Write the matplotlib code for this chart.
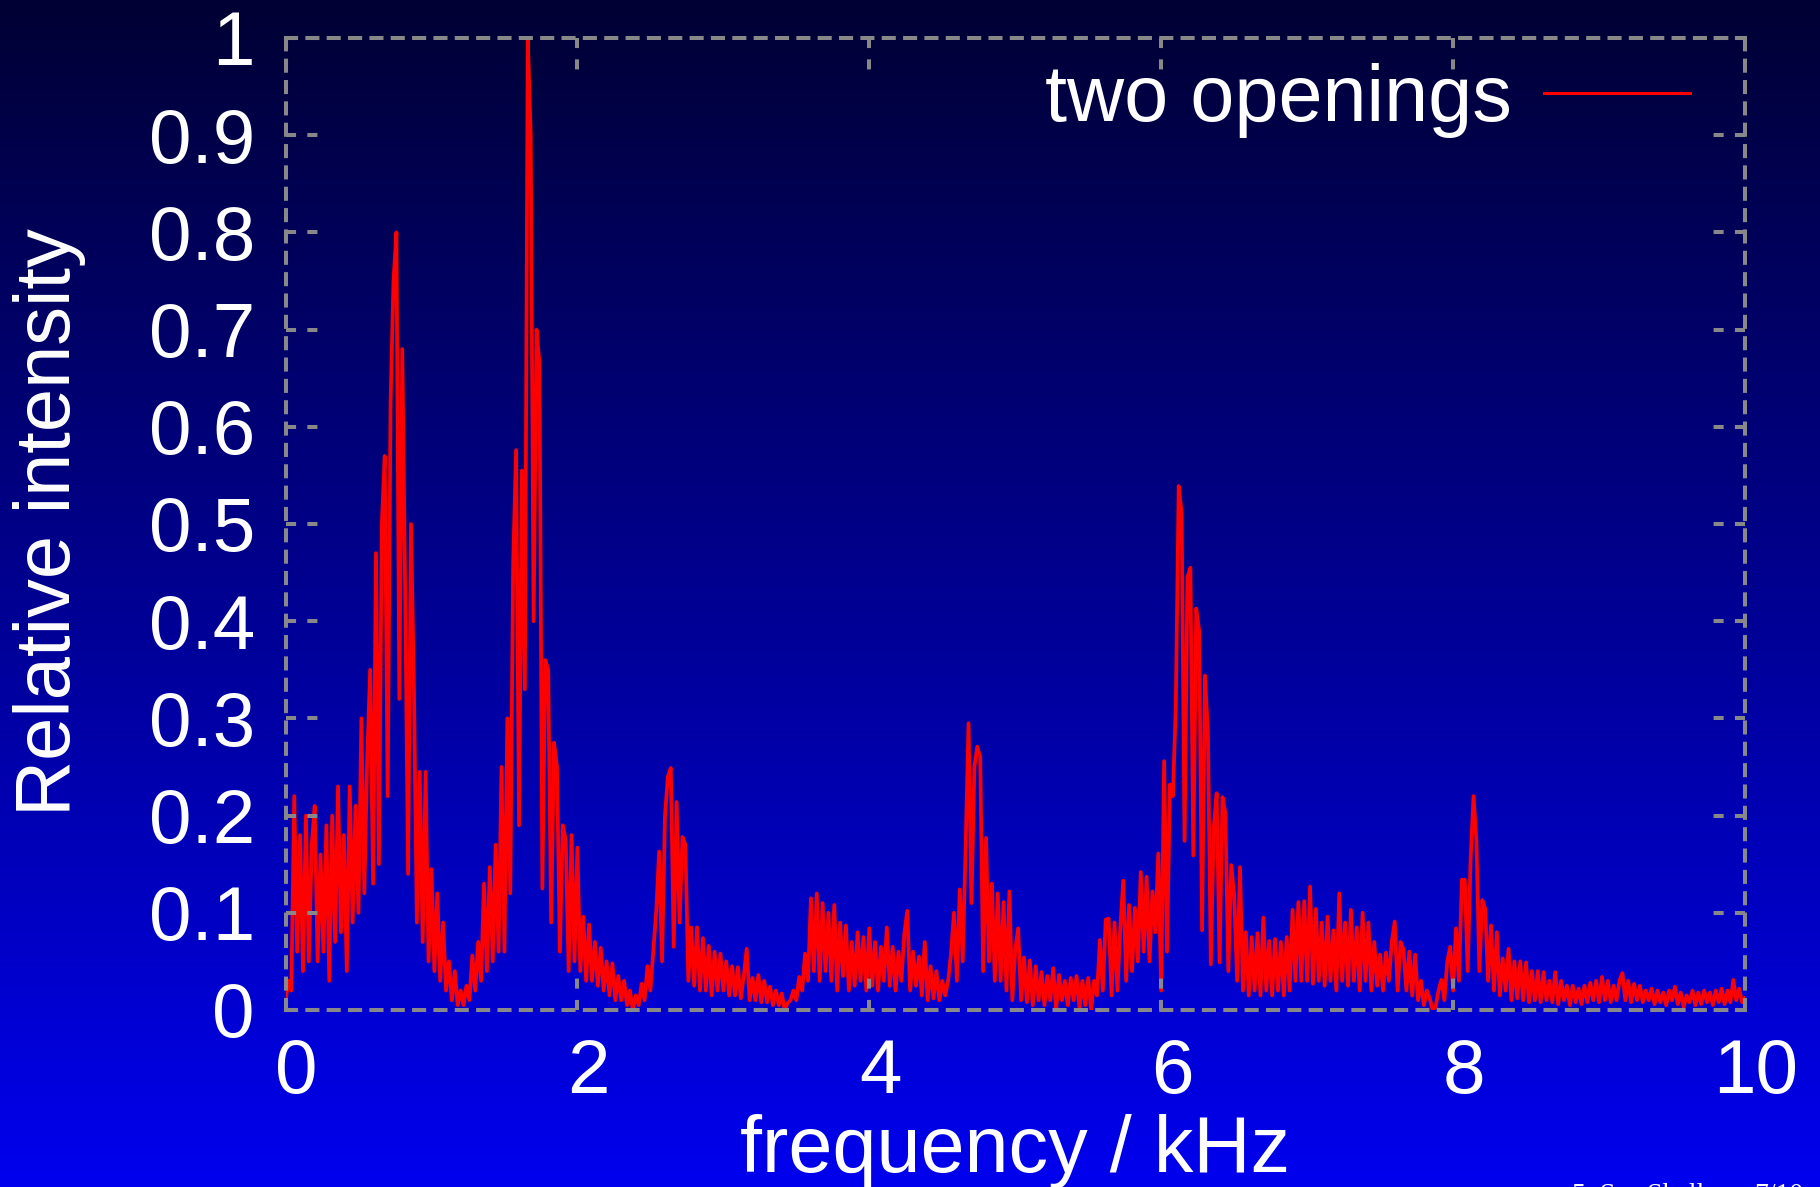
import numpy as np
import matplotlib
matplotlib.use("Agg")
import matplotlib.pyplot as plt
import matplotlib.transforms as mtransforms

plt.rcParams["font.family"] = ["Liberation Sans", "DejaVu Sans"]

# spectrum, one list per kHz, 0.02 kHz steps
khz_0 = [0.01, 0.03, 0.02, 0.22, 0.06, 0.18, 0.04, 0.20, 0.05, 0.17,
         0.21, 0.05, 0.16, 0.06, 0.19, 0.03, 0.20, 0.07, 0.23, 0.08,
         0.18, 0.04, 0.23, 0.09, 0.21, 0.10, 0.30, 0.12, 0.26, 0.35,
         0.13, 0.47, 0.15, 0.50, 0.57, 0.22, 0.625, 0.75, 0.80, 0.32,
         0.68, 0.43, 0.14, 0.50, 0.33, 0.09, 0.245, 0.07, 0.245, 0.05]
khz_1 = [0.145, 0.04, 0.12, 0.03, 0.09, 0.02, 0.05, 0.01, 0.04, 0.005,
         0.02, 0.005, 0.025, 0.01, 0.056, 0.02, 0.07, 0.03, 0.13, 0.04,
         0.147, 0.05, 0.17, 0.06, 0.25, 0.06, 0.30, 0.12, 0.46, 0.576,
         0.19, 0.555, 0.33, 1.00, 0.90, 0.40, 0.70, 0.665, 0.125, 0.36,
         0.35, 0.09, 0.275, 0.25, 0.06, 0.19, 0.175, 0.04, 0.18, 0.05]
khz_2 = [0.167, 0.04, 0.096, 0.03, 0.088, 0.03, 0.07, 0.025, 0.064, 0.02,
         0.05, 0.015, 0.048, 0.01, 0.035, 0.01, 0.03, 0.005, 0.02, 0.0,
         0.015, 0.005, 0.027, 0.01, 0.045, 0.02, 0.06, 0.101, 0.163, 0.05,
         0.20, 0.24, 0.249, 0.065, 0.214, 0.09, 0.178, 0.17, 0.03, 0.085,
         0.025, 0.085, 0.02, 0.074, 0.02, 0.066, 0.015, 0.06, 0.02, 0.058]
khz_3 = [0.02, 0.05, 0.015, 0.045, 0.015, 0.044, 0.012, 0.035, 0.063, 0.01,
         0.033, 0.01, 0.036, 0.008, 0.03, 0.008, 0.024, 0.005, 0.02, 0.005,
         0.017, 0.0, 0.007, 0.01, 0.02, 0.01, 0.034, 0.02, 0.058, 0.03,
         0.115, 0.04, 0.12, 0.03, 0.11, 0.04, 0.10, 0.03, 0.108, 0.02,
         0.09, 0.035, 0.087, 0.02, 0.07, 0.025, 0.08, 0.03, 0.075, 0.02]
khz_4 = [0.084, 0.025, 0.07, 0.02, 0.065, 0.03, 0.085, 0.025, 0.065, 0.02,
         0.06, 0.03, 0.078, 0.102, 0.02, 0.06, 0.025, 0.055, 0.015, 0.07,
         0.01, 0.045, 0.012, 0.04, 0.01, 0.03, 0.015, 0.03, 0.058, 0.10,
         0.03, 0.124, 0.05, 0.168, 0.295, 0.11, 0.25, 0.271, 0.26, 0.04,
         0.177, 0.05, 0.13, 0.03, 0.12, 0.03, 0.111, 0.02, 0.122, 0.01]
khz_5 = [0.062, 0.084, 0.01, 0.054, 0.008, 0.051, 0.005, 0.045, 0.01, 0.039,
         0.005, 0.035, 0.01, 0.043, 0.0, 0.036, 0.01, 0.03, 0.005, 0.033,
         0.01, 0.035, 0.002, 0.03, 0.005, 0.033, 0.0, 0.03, 0.015, 0.072,
         0.02, 0.093, 0.094, 0.015, 0.09, 0.02, 0.085, 0.133, 0.03, 0.108,
         0.04, 0.105, 0.05, 0.142, 0.06, 0.137, 0.05, 0.122, 0.08, 0.161]
khz_6 = [0.02, 0.256, 0.06, 0.232, 0.22, 0.312, 0.539, 0.511, 0.174, 0.445,
         0.455, 0.159, 0.413, 0.39, 0.082, 0.344, 0.286, 0.047, 0.187, 0.223,
         0.049, 0.219, 0.202, 0.04, 0.149, 0.118, 0.03, 0.147, 0.02, 0.08,
         0.015, 0.075, 0.02, 0.079, 0.015, 0.095, 0.02, 0.071, 0.015, 0.073,
         0.02, 0.07, 0.015, 0.075, 0.02, 0.103, 0.03, 0.111, 0.03, 0.112]
khz_7 = [0.03, 0.127, 0.027, 0.104, 0.03, 0.09, 0.025, 0.096, 0.03, 0.082,
         0.02, 0.12, 0.03, 0.09, 0.025, 0.103, 0.03, 0.085, 0.02, 0.10,
         0.03, 0.09, 0.02, 0.07, 0.025, 0.057, 0.02, 0.059, 0.03, 0.07,
         0.091, 0.02, 0.07, 0.062, 0.02, 0.06, 0.015, 0.057, 0.01, 0.03,
         0.005, 0.02, 0.012, 0.0, 0.003, 0.02, 0.031, 0.01, 0.05, 0.065]
khz_8 = [0.02, 0.084, 0.03, 0.134, 0.134, 0.04, 0.155, 0.22, 0.173, 0.04,
         0.113, 0.104, 0.03, 0.087, 0.02, 0.08, 0.015, 0.053, 0.02, 0.063,
         0.01, 0.05, 0.012, 0.05, 0.01, 0.049, 0.008, 0.04, 0.01, 0.04,
         0.008, 0.039, 0.01, 0.03, 0.008, 0.039, 0.006, 0.03, 0.01, 0.025,
         0.005, 0.025, 0.008, 0.022, 0.006, 0.025, 0.008, 0.028, 0.01, 0.03]
khz_9 = [0.008, 0.034, 0.01, 0.03, 0.008, 0.025, 0.01, 0.03, 0.038, 0.01,
         0.03, 0.008, 0.027, 0.01, 0.025, 0.008, 0.02, 0.01, 0.022, 0.006,
         0.02, 0.008, 0.018, 0.005, 0.02, 0.01, 0.024, 0.006, 0.018, 0.003,
         0.015, 0.008, 0.02, 0.005, 0.018, 0.006, 0.02, 0.008, 0.018, 0.005,
         0.02, 0.008, 0.022, 0.006, 0.02, 0.008, 0.031, 0.01, 0.022, 0.008]
khz_end = [0.012]

x_ticks = [0, 2, 4, 6, 8, 10]
x_labels = ["0", "2", "4", "6", "8", "10"]
y_ticks = [0, 0.1, 0.2, 0.3, 0.4, 0.5, 0.6, 0.7, 0.8, 0.9, 1]
y_labels = ["0", "0.1", "0.2", "0.3", "0.4", "0.5", "0.6", "0.7", "0.8", "0.9", "1"]

intensity = np.concatenate([khz_0, khz_1, khz_2, khz_3, khz_4,
                            khz_5, khz_6, khz_7, khz_8, khz_9, khz_end])
freq = np.arange(len(intensity)) * 0.02

W, H = 1820, 1187
fig = plt.figure(figsize=(W / 100, H / 100), dpi=100)

# background gradient, dark navy at the top to bright blue at the bottom
bg = fig.add_axes([0, 0, 1, 1], zorder=-10)
t = np.linspace(0, 1, 512)[:, None, None]
top_c = np.array([0, 0, 0x34 / 255])
bot_c = np.array([0, 0, 0xEE / 255])
bg.imshow(top_c * (1 - t) + bot_c * t, aspect="auto", extent=[0, 1, 0, 1])
bg.axis("off")

ax = fig.add_axes([285.5 / W, 1 - 1010 / H, 1459.5 / W, 972 / H])
ax.set_facecolor("none")
ax.plot(freq, intensity, color="#ff0000", lw=2.7, label="two openings")
ax.set_xlim(0, 10)
ax.set_ylim(0, 1)

grey = "#888888"
frame_lw = 2.9
dash = (0, (2.5, 2.8))
for s in ax.spines.values():
    s.set_color(grey)
    s.set_linewidth(frame_lw)
    s.set_linestyle(dash)
    s.set_zorder(3)

ax.set_xticks(x_ticks)
ax.set_xticklabels(x_labels)
ax.set_yticks(y_ticks)
ax.set_yticklabels(y_labels)
ax.tick_params(length=0, labelsize=55, labelcolor="white")
ax.tick_params(axis="x", pad=20)
ax.tick_params(axis="y", pad=22)
shift = mtransforms.ScaledTranslation(0.11, 0, fig.dpi_scale_trans)
for lbl in ax.get_xticklabels():
    lbl.set_transform(lbl.get_transform() + shift)

# dashed inward ticks on all four sides
tx = 34 / 1459.5
ty = 34 / 972
ytr = mtransforms.blended_transform_factory(ax.transAxes, ax.transData)
xtr = mtransforms.blended_transform_factory(ax.transData, ax.transAxes)
for yv in y_ticks:
    ax.plot([0, tx], [yv, yv], transform=ytr, color=grey, lw=frame_lw, ls=dash, zorder=3, clip_on=False)
    ax.plot([1, 1 - tx], [yv, yv], transform=ytr, color=grey, lw=frame_lw, ls=dash, zorder=3, clip_on=False)
for xv in x_ticks:
    ax.plot([xv, xv], [0, ty], transform=xtr, color=grey, lw=frame_lw, ls=dash, zorder=3, clip_on=False)
    ax.plot([xv, xv], [1, 1 - ty], transform=xtr, color=grey, lw=frame_lw, ls=dash, zorder=3, clip_on=False)

leg = ax.legend(loc="center right", bbox_to_anchor=(1690 / W, 1 - 100 / H),
                bbox_transform=fig.transFigure, frameon=False, markerfirst=False,
                fontsize=57, handlelength=1.85, handletextpad=0.4, borderpad=0,
                borderaxespad=0, labelcolor="white")
for h in leg.get_lines():
    h.set_linewidth(2.2)

fig.text(1015 / W, 1 - 1172 / H, "frequency / kHz", ha="center", va="baseline",
         fontsize=57, color="white")
fig.text(50 / W, 1 - 522 / H, "Relative intensity", rotation=90, ha="center",
         va="center", fontsize=56, color="white")

fig.text(1572 / W, 4 / H, "5. Sea Shells", family="Liberation Serif", fontsize=20,
         va="top", ha="left", color="white")
fig.text(1803 / W, 4 / H, "7/10", family="Liberation Serif", fontsize=20,
         va="top", ha="right", color="white")

fig.savefig("out.png", dpi=100)
